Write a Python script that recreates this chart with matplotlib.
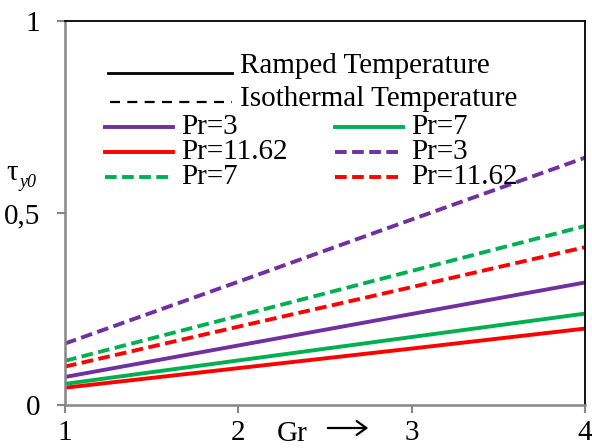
import matplotlib
matplotlib.use("Agg")
import matplotlib.pyplot as plt
from matplotlib.lines import Line2D
from matplotlib.patches import FancyArrowPatch

# Gr values and shear stress tau_y0 for each Prandtl number
gr = [1, 2, 3, 4]
ramped_pr3 = [0.073, 0.155, 0.237, 0.319]
ramped_pr7 = [0.055, 0.116, 0.177, 0.238]
ramped_pr1162 = [0.045, 0.096, 0.147, 0.199]
iso_pr3 = [0.160, 0.321, 0.483, 0.644]
iso_pr7 = [0.115, 0.232, 0.349, 0.466]
iso_pr1162 = [0.100, 0.204, 0.307, 0.411]

PURPLE, GREEN, RED = "#7030A0", "#00B050", "#FF0000"
GRAY = "#868686"
FS = 21
plt.rcParams["font.family"] = ["Liberation Serif", "DejaVu Serif"]

fig = plt.figure(figsize=(5.92, 4.48), dpi=100)
ax = fig.add_axes([65 / 592, 1 - 405 / 448, 520 / 592, 384 / 448])

lw = 2.8
dash = (0, (3, 1.4))
ax.plot(gr, ramped_pr3, color=PURPLE, lw=lw)
ax.plot(gr, ramped_pr7, color=GREEN, lw=lw)
ax.plot(gr, ramped_pr1162, color=RED, lw=lw)
ax.plot(gr, iso_pr3, color=PURPLE, lw=lw, ls=dash)
ax.plot(gr, iso_pr7, color=GREEN, lw=lw, ls=dash)
ax.plot(gr, iso_pr1162, color=RED, lw=lw, ls=dash)

ax.set_xlim(1, 4)
ax.set_ylim(0, 1)
ax.set_xticks([1, 2, 3, 4])
ax.set_xticklabels(["1", "2", "3", "4"])
ax.set_yticks([0, 0.5, 1])
ax.set_yticklabels(["0", "0,5", "1"])
ax.tick_params(labelsize=FS, color=GRAY, width=1.5, length=6, direction="out")
ax.tick_params(axis="x", pad=5)
ax.tick_params(axis="y", pad=12)
for side in ("left", "bottom"):
    ax.spines[side].set_color(GRAY)
    ax.spines[side].set_linewidth(1.8)
for side in ("top", "right"):
    ax.spines[side].set_color("black")
    ax.spines[side].set_linewidth(1.3)

# hand-built legend block inside the axes (figure pixel coords)
def fx(px):
    return px / 592

def fy(py):
    return 1 - py / 448

def key(x0, x1, y, color, ls, lw_=lw):
    fig.add_artist(Line2D([fx(x0), fx(x1)], [fy(y), fy(y)], color=color,
                          ls=ls, lw=lw_, transform=fig.transFigure))

def label(x, y, s, size=FS, **kw):
    fig.text(fx(x), fy(y), s, fontsize=size, va="baseline", ha="left", **kw)

key(108, 232, 73, "black", "-", 2.0)
label(240, 73, "Ramped Temperature")
key(110, 232, 102, "black", (0, (4.5, 3.3)), 1.6)
label(240, 106, "Isothermal Temperature")

rows = [127, 152, 177]
bases = [134, 159, 184]
key(105, 173, rows[0], PURPLE, "-")
label(181, bases[0], "Pr=3")
key(105, 173, rows[1], RED, "-")
label(181, bases[1], "Pr=11.62")
key(105, 173, rows[2], GREEN, dash)
label(181, bases[2], "Pr=7")
key(335, 403, rows[0], GREEN, "-")
label(411, bases[0], "Pr=7")
key(335, 403, rows[1], PURPLE, dash)
label(411, bases[1], "Pr=3")
key(335, 403, rows[2], RED, dash)
label(411, bases[2], "Pr=11.62")

# axis labels
label(6, 180, "τ")
label(20, 187, "y0", size=13, style="italic")
label(277, 441, "Gr")
fig.add_artist(FancyArrowPatch(
    (fx(325), fy(428)), (fx(371), fy(428)), transform=fig.transFigure,
    arrowstyle="->,head_length=7,head_width=5", lw=1.6, color="black",
    mutation_scale=1))

fig.savefig("out.png", dpi=100)
